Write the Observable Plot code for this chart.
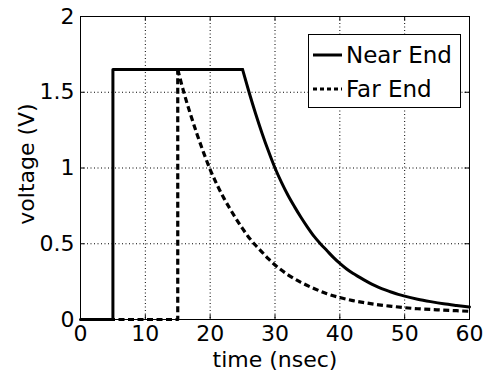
<!DOCTYPE html>
<html>
<head>
<meta charset="utf-8">
<script src="https://cdn.jsdelivr.net/npm/d3@7"></script>
<script src="https://cdn.jsdelivr.net/npm/@observablehq/plot@0.6"></script>
<style>
  html, body { margin: 0; padding: 0; background: #fff; }
  #chart { width: 487px; height: 375px; }
</style>
</head>
<body>
<div id="chart"></div>
<script>
// Data
const nearTime = [0, 5, 5, 25, 26, 27, 28, 29, 30, 31, 32, 33, 34, 35, 36, 37, 38, 39, 40, 41, 42, 43, 44, 45, 46, 47, 48, 49, 50, 52, 54, 56, 58, 60];
const nearVoltage = [0, 0, 1.65, 1.65, 1.50, 1.36, 1.23, 1.11, 1.00, 0.905, 0.82, 0.745, 0.675, 0.61, 0.55, 0.50, 0.455, 0.41, 0.37, 0.335, 0.305, 0.28, 0.255, 0.232, 0.212, 0.195, 0.18, 0.166, 0.154, 0.134, 0.118, 0.104, 0.093, 0.083];
const farTime = [0, 15, 15, 16, 17, 18, 19, 20, 21, 22, 23, 24, 25, 26, 27, 28, 29, 30, 32, 34, 36, 38, 40, 42, 44, 46, 48, 50, 52, 55, 58, 60];
const farVoltage = [0, 0, 1.65, 1.49, 1.35, 1.22, 1.10, 0.99, 0.895, 0.81, 0.735, 0.665, 0.60, 0.54, 0.49, 0.445, 0.40, 0.36, 0.295, 0.245, 0.205, 0.17, 0.145, 0.125, 0.11, 0.097, 0.087, 0.078, 0.071, 0.064, 0.058, 0.054];
const xTicks = [0, 10, 20, 30, 40, 50, 60];
const yTicks = [0, 0.5, 1, 1.5, 2];
const seriesNames = ["Near End", "Far End"];
const xLabel = "time (nsec)";
const yLabel = "voltage (V)";

const near = nearTime.map((t, i) => ({t, v: nearVoltage[i]}));
const far = farTime.map((t, i) => ({t, v: farVoltage[i]}));
// step part (linear) and decaying part (smooth)
const nearStep = near.slice(0, 4), nearDecay = near.slice(3);
const farStep = far.slice(0, 3), farDecay = far.slice(2);
const xInner = xTicks.slice(1, -1);
const yInner = yTicks.slice(1, -1);

const font = "'DejaVu Sans', Verdana, sans-serif";
const dotted = "1,2.5";
const dash = "6,3.5";
const fs = 22;

const chart = Plot.plot({
  width: 487,
  height: 375,
  marginLeft: 80,
  marginRight: 18,
  marginTop: 16,
  marginBottom: 56,
  style: { fontFamily: font, fontSize: fs + "px", color: "black", background: "white", overflow: "visible" },
  x: { domain: [0, 60] },
  y: { domain: [0, 2] },
  marks: [
    // dotted grid
    Plot.ruleX(xInner, { stroke: "black", strokeWidth: 1, strokeDasharray: dotted }),
    Plot.ruleY(yInner, { stroke: "black", strokeWidth: 1, strokeDasharray: dotted }),
    // inward ticks on all four sides
    Plot.ruleX(xInner, { y1: 0, y2: 0.03, stroke: "black" }),
    Plot.ruleX(xInner, { y1: 2, y2: 1.97, stroke: "black" }),
    Plot.ruleY(yInner, { x1: 0, x2: 0.7, stroke: "black" }),
    Plot.ruleY(yInner, { x1: 60, x2: 59.3, stroke: "black" }),
    // series
    Plot.line(nearStep, { x: "t", y: "v", stroke: "black", strokeWidth: 3 }),
    Plot.line(nearDecay, { x: "t", y: "v", stroke: "black", strokeWidth: 3, curve: "monotone-x" }),
    Plot.line(farStep, { x: "t", y: "v", stroke: "black", strokeWidth: 3.2, strokeDasharray: dash, strokeLinecap: "butt" }),
    Plot.line(farDecay, { x: "t", y: "v", stroke: "black", strokeWidth: 3.2, strokeDasharray: dash, strokeLinecap: "butt", curve: "monotone-x" }),
    Plot.frame({ stroke: "black", strokeWidth: 1 }),
    // axes
    Plot.axisX(xTicks, { tickSize: 0, tickPadding: 6, fontSize: fs, label: null, tickFormat: d => String(d) }),
    Plot.axisY(yTicks, { tickSize: 0, tickPadding: 6, fontSize: fs, label: null, tickFormat: d => String(d) }),
    Plot.text([xLabel], { frameAnchor: "bottom", textAnchor: "middle", dy: 40, fontSize: fs, text: d => d, lineAnchor: "middle" }),
    Plot.text([yLabel], { frameAnchor: "left", textAnchor: "middle", dx: -53.5, dy: -4, rotate: -90, fontSize: fs, text: d => d, lineAnchor: "middle" })
  ]
});

document.getElementById("chart").appendChild(chart);

// Legend box (drawn into the same SVG)
const svg = d3.select(chart.tagName.toLowerCase() === "svg" ? chart : chart.querySelector("svg"));
const lg = svg.append("g").attr("font-family", font).attr("text-anchor", "start");
lg.append("rect").attr("x", 308.5).attr("y", 34.5).attr("width", 152).attr("height", 73)
  .attr("fill", "white").attr("stroke", "black").attr("stroke-width", 1);
const rows = [{ y: 55, dash: null }, { y: 89, dash: "4,3" }];
rows.forEach((r, i) => {
  lg.append("line").attr("x1", 313).attr("x2", 342).attr("y1", r.y).attr("y2", r.y)
    .attr("stroke", "black").attr("stroke-width", i === 0 ? 3 : 3.2)
    .attr("stroke-dasharray", r.dash);
  lg.append("text").attr("x", 346).attr("y", r.y).attr("dy", "0.36em")
    .attr("font-size", 23).attr("fill", "black").attr("text-anchor", "start").text(seriesNames[i]);
});
</script>
</body>
</html>
